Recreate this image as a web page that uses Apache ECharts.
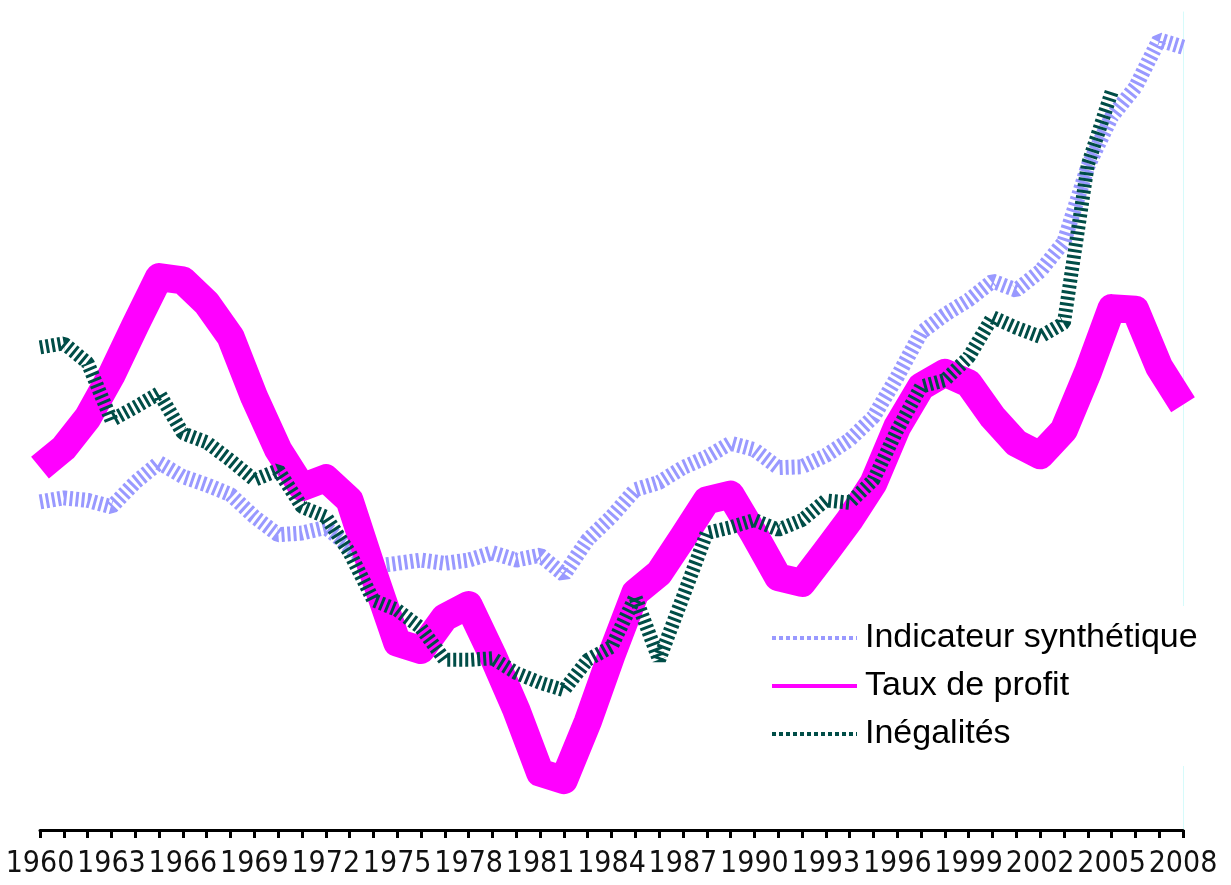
<!DOCTYPE html>
<html>
<head>
<meta charset="utf-8">
<title>Indicateur synthétique, taux de profit et inégalités</title>
<script src="https://cdn.jsdelivr.net/npm/echarts@6/dist/echarts.min.js"></script>
<style>
  html, body { margin: 0; padding: 0; background: #fff; }
  #chart { width: 1231px; height: 885px; }
</style>
</head>
<body>
<div id="chart"></div>
<script>
// years 1960 -> 2008
const years = []
for (let y = 1960; y <= 2008; y++) years.push(String(y))

const indicateur = [
  40.1, 40.6, 40.3, 39.5, 42.5, 44.9, 43.2, 42.2, 41.0, 38.3,
  36.1, 36.3, 37.0, 34.6, 32.2, 32.6, 33.0, 32.6, 33.0, 33.9,
  33.0, 33.6, 31.2, 35.5, 38.3, 41.6, 42.5, 44.3, 45.6, 47.3,
  46.5, 44.3, 44.4, 45.8, 47.7, 50.5, 55.4, 60.8, 63.0, 64.8,
  67.1, 66.0, 68.3, 71.9, 81.1, 87.2, 90.8, 96.6, 95.7
]

const tauxProfit = [
  44.3, 46.7, 50.4, 55.6, 61.7, 67.6, 67.2, 64.4, 60.3, 52.9,
  46.5, 41.9, 43.0, 40.3, 31.4, 22.9, 22.0, 26.0, 27.5, 21.4,
  14.7, 7.0, 6.1, 13.2, 21.4, 29.0, 31.4, 35.8, 40.3, 41.0,
  36.1, 30.9, 30.2, 34.0, 37.9, 42.4, 49.3, 54.2, 55.9, 54.6,
  50.5, 47.3, 45.8, 48.9, 55.9, 63.8, 63.6, 56.6, 52.0
]

// no data after 2005
const inegalites = [
  59.0, 59.5, 57.1, 50.1, 51.7, 53.4, 48.5, 47.4, 45.2, 42.8,
  44.0, 39.5, 38.3, 33.9, 28.1, 26.9, 24.7, 20.8, 20.8, 21.0,
  19.2, 18.0, 17.1, 20.8, 22.4, 28.5, 20.8, 28.5, 36.3, 37.0,
  37.9, 36.7, 37.9, 40.3, 40.0, 42.8, 48.9, 54.2, 55.0, 57.8,
  62.7, 61.4, 60.3, 62.0, 81.3, 90.2, null, null, null
]

const names = ['Indicateur synthétique', 'Taux de profit', 'Inégalités']
const colors = ['#9999ff', '#ff00ff', '#004d47']

const chart = echarts.init(document.getElementById('chart'), null, { renderer: 'canvas' })

chart.setOption({
  animation: false,
  backgroundColor: '#fff',
  grid: { left: 40, right: 48, top: 12, bottom: 55 },
  legend: {
    orient: 'vertical',
    left: 760,
    top: 606,
    padding: [15, 12, 15, 10],
    backgroundColor: '#fff',
    itemWidth: 85,
    itemHeight: 30,
    itemGap: 14,
    itemStyle: { opacity: 0 },
    textStyle: {
      fontFamily: 'Liberation Sans, Arial, sans-serif',
      fontSize: 34,
      color: '#000',
      padding: [0, 0, 0, 3]
    },
    data: [
      { name: names[0], lineStyle: { width: 4, type: [4, 3] } },
      { name: names[1], lineStyle: { width: 4, type: 'solid' } },
      { name: names[2], lineStyle: { width: 4, type: [4, 3] } }
    ]
  },
  xAxis: {
    type: 'category',
    boundaryGap: false,
    data: years,
    axisLine: { lineStyle: { color: '#000', width: 3 } },
    axisTick: { show: true, interval: 0, length: 8, lineStyle: { color: '#000', width: 3 } },
    axisLabel: {
      interval: 2,
      showMinLabel: true,
      showMaxLabel: true,
      hideOverlap: false,
      margin: 19,
      color: '#111',
      fontFamily: 'DejaVu Sans Condensed, sans-serif',
      fontSize: 30
    },
    splitLine: { show: false }
  },
  yAxis: [
    { type: 'value', min: 0, max: 100, show: false, splitLine: { show: false } },
    {
      type: 'value', min: 0, max: 100, position: 'right',
      axisLine: { show: true, lineStyle: { color: '#d6fbfb', width: 1 } },
      axisTick: { show: false },
      axisLabel: { show: false },
      splitLine: { show: false }
    }
  ],
  series: [
    {
      name: names[0],
      type: 'line',
      data: indicateur,
      symbol: 'none',
      lineStyle: { color: colors[0], width: 15, type: [3, 3], cap: 'butt' },
      itemStyle: { color: colors[0] },
      z: 2
    },
    {
      name: names[1],
      type: 'line',
      data: tauxProfit,
      symbol: 'none',
      lineStyle: { color: colors[1], width: 28, cap: 'butt', join: 'round' },
      itemStyle: { color: colors[1] },
      z: 3
    },
    {
      name: names[2],
      type: 'line',
      data: inegalites,
      symbol: 'none',
      lineStyle: { color: colors[2], width: 14, type: [3, 3], cap: 'butt' },
      itemStyle: { color: colors[2] },
      z: 4
    }
  ]
})
</script>
</body>
</html>
